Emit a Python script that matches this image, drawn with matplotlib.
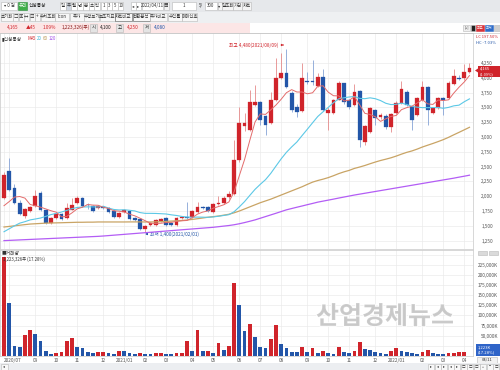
import numpy as np
import pandas as pd
import matplotlib
matplotlib.use('Agg')
import matplotlib.pyplot as plt
from matplotlib.patches import Rectangle, Polygon
import matplotlib.patheffects as pe

plt.rcParams['font.family'] = ['Noto Sans CJK KR', 'DejaVu Sans']

# 신성통상 주봉 (2020/07/27 ~ 2022/04/11)
start_date = '2020-07-27'
opens = [1970, 2420, 2140, 1885, 1665, 1750, 1835, 2055, 1765, 1550,
         1630, 1700, 1630, 1770, 1885, 1970, 1860, 1835, 1800, 1820,
         1800, 1750, 1650, 1735, 1750, 1630, 1615, 1450, 1515, 1515,
         1585, 1630, 1550, 1515, 1630, 1650, 1650, 1735, 1820, 1820,
         1735, 1870, 1885, 1990, 2040, 2610, 3190, 3120, 3540, 3590,
         3360, 3240, 3620, 4000, 4080, 3750, 3510, 3440, 3950, 3945,
         3860, 4010, 3410, 3410, 3630, 3910, 3620, 3540, 3780, 2920,
         3090, 3460, 3340, 3360, 3170, 3410, 3570, 3760, 3510, 3370,
         3620, 3850, 3400, 3490, 3660, 3660, 3890, 4000, 3990, 4100]
highs = [2410, 2640, 2200, 1930, 1800, 1840, 2100, 2090, 1780, 1650,
         1720, 1720, 1880, 1970, 2000, 1985, 1890, 1850, 1850, 1835,
         1810, 1790, 1730, 1790, 1765, 1650, 1630, 1520, 1570, 1620,
         1640, 1650, 1560, 1650, 1670, 1900, 1760, 1900, 1840, 1840,
         1890, 2000, 2000, 2080, 2950, 3500, 3400, 3800, 3880, 3600,
         3380, 3760, 4330, 4420, 4480, 3780, 3550, 4250, 4100, 4300,
         4080, 4150, 3500, 3650, 3950, 3920, 3650, 3900, 3800, 3200,
         3500, 3480, 3410, 3390, 3400, 3600, 3950, 3790, 3530, 3670,
         3950, 3860, 3510, 3670, 3680, 3950, 4150, 4050, 4240, 4250]
lows = [1950, 2090, 1870, 1680, 1630, 1735, 1820, 1750, 1530, 1530,
        1610, 1600, 1620, 1760, 1870, 1820, 1790, 1730, 1790, 1790,
        1720, 1640, 1630, 1720, 1600, 1580, 1430, 1400, 1500, 1500,
        1570, 1500, 1500, 1500, 1620, 1620, 1640, 1720, 1780, 1740,
        1720, 1860, 1870, 1960, 2020, 2580, 3100, 3100, 3520, 3200,
        3030, 3220, 3600, 3980, 3820, 3420, 3330, 3420, 3900, 3880,
        3840, 3440, 3120, 3390, 3620, 3560, 3480, 3520, 2830, 2870,
        3060, 3200, 3300, 3130, 3080, 3390, 3560, 3530, 3120, 3350,
        3610, 3200, 3390, 3470, 3380, 3640, 3870, 3960, 3970, 4080]
closes = [2360, 2110, 1885, 1700, 1785, 1820, 2005, 1765, 1550, 1630,
          1700, 1615, 1800, 1850, 1970, 1835, 1845, 1750, 1835, 1800,
          1735, 1650, 1715, 1765, 1615, 1600, 1450, 1500, 1550, 1600,
          1615, 1515, 1515, 1630, 1650, 1640, 1750, 1820, 1800, 1750,
          1870, 1885, 1970, 2040, 2610, 3240, 3240, 3590, 3590, 3290,
          3200, 3620, 4000, 4080, 3840, 3460, 3420, 4000, 3930, 3925,
          4010, 3460, 3460, 3630, 3910, 3590, 3510, 3760, 2950, 3190,
          3490, 3320, 3370, 3170, 3390, 3570, 3810, 3540, 3290, 3660,
          3850, 3460, 3490, 3660, 3620, 3910, 4030, 3985, 4100, 4165]
# 거래량 (천주)
volumes = [243300, 131400, 24600, 21400, 51800, 64100, 53500, 37700, 13100, 4900,
           8100, 9100, 37700, 43600, 22900, 19700, 9100, 6600, 9100, 10600,
           6600, 5700, 12300, 11600, 6600, 5700, 6600, 4900, 4200, 6600,
           6900, 4900, 4200, 6600, 7400, 37000, 13100, 64100, 11600, 12300,
           6600, 31300, 14800, 24600, 179200, 125000, 62400, 78900, 47600, 21400,
           20500, 41100, 76400, 28800, 19700, 10600, 9900, 22200, 9100, 19700,
           6600, 12300, 6600, 5800, 21400, 10600, 6600, 13100, 33800, 17300,
           14800, 10600, 6600, 4900, 12300, 19700, 13100, 9100, 6600, 4900,
           10600, 14800, 6600, 5700, 4200, 7500, 8600, 9200, 9800, 1223]

# 화면 왼쪽 이전 구간의 이동평균
ma5_head = [1840, 1910, 1985, 1995]
ma20_head = [1400, 1450, 1500, 1545, 1570, 1600, 1615, 1632, 1660, 1690,
             1710, 1733, 1760, 1790, 1810, 1818, 1820, 1820, 1818]
ma60_head = [1480, 1490, 1500, 1510, 1520, 1530, 1535, 1540, 1545, 1548,
             1550, 1552, 1555, 1557, 1560, 1560, 1562, 1562, 1565, 1565,
             1565, 1565, 1565, 1565, 1566, 1566, 1566, 1565, 1565, 1567,
             1570, 1575, 1580, 1585, 1590, 1598, 1608, 1620, 1632, 1645,
             1655, 1665, 1680, 1695, 1720, 1750, 1785, 1820, 1855, 1890,
             1920, 1950, 1985, 2020, 2055, 2090, 2125, 2160, 2200]
ma120 = [1250, 1254, 1258, 1262, 1266, 1270, 1274, 1278, 1282, 1286,
         1290, 1294, 1298, 1302, 1306, 1310, 1314, 1318, 1322, 1328,
         1335, 1342, 1349, 1356, 1363, 1370, 1377, 1384, 1391, 1398,
         1405, 1412, 1419, 1426, 1433, 1440, 1447, 1454, 1461, 1468,
         1475, 1485, 1495, 1505, 1518, 1535, 1555, 1577, 1600, 1628,
         1656, 1684, 1712, 1741, 1770, 1792, 1814, 1835, 1857, 1878,
         1900, 1917, 1934, 1951, 1969, 1986, 2003, 2020, 2035, 2050,
         2065, 2080, 2095, 2110, 2125, 2140, 2155, 2170, 2185, 2200,
         2215, 2230, 2245, 2260, 2275, 2290, 2305, 2322, 2338, 2355]

price_ticks = [1250, 1500, 1750, 2000, 2250, 2500, 2750, 3000, 3250, 3500, 3750, 4000, 4250]
vol_ticks = [25000, 50000, 75000, 100000, 125000, 150000, 175000, 200000, 225000, 250000]

RED = '#d0242b'
BLUE = '#2356a8'

n = len(closes)
idx = np.arange(n)
o = np.array(opens); h = np.array(highs); l = np.array(lows); c = np.array(closes)
v = np.array(volumes)
cs = pd.Series(c, dtype=float)


def moving(window, head):
    m = cs.rolling(window).mean().to_numpy()
    m[:len(head)] = head
    return m


ma5 = moving(5, ma5_head)
ma20 = moving(20, ma20_head)
ma60 = moving(60, ma60_head)

dates = pd.date_range(start_date, periods=n, freq='7D')
month_idx = [i for i in range(n) if i == 0 or dates[i].month != dates[i - 1].month]
month_lab = []
last = -10
for i in month_idx:
    if i - last < 4:
        month_lab.append('')
        continue
    last = i
    d = dates[i]
    month_lab.append(d.strftime('%Y/%m') if (i == 0 or d.month == 1) else d.strftime('%m'))

W, H = 500, 370
fig = plt.figure(figsize=(5, 3.7), dpi=100)
fig.patch.set_facecolor('white')


def axes_px(x0, y0, x1, y1):
    return fig.add_axes([x0 / W, 1 - y1 / H, (x1 - x0) / W, (y1 - y0) / H])


PX = 5.23  # px per candle
xlim = (-4 / PX, (473 - 4) / PX)

# ---- price panel
ax = axes_px(0, 33, 473, 249)
ax.set_xlim(*xlim)
ax.set_ylim(4250 - 186 * 16.89, 4250 + 30 * 16.89)
up = c >= o
for i in idx:
    col = RED if up[i] else BLUE
    wick = '#e58a8a' if up[i] else '#86a3d6'
    ax.vlines(i, l[i], h[i], color=wick, lw=0.6, zorder=2)
    body = max(abs(c[i] - o[i]), 10)
    ax.bar(i, body, bottom=min(o[i], c[i]), width=0.72, color=col,
           edgecolor=col, lw=0.2, zorder=3)
ax.plot(idx, ma120, color='#b35df5', lw=0.9, zorder=4)
ax.plot(idx, ma60, color='#c9a465', lw=0.9, zorder=4)
ax.plot(idx, ma20, color='#5cc8e6', lw=0.8, zorder=4)
ax.plot(idx, ma5, color='#e36b6b', lw=0.7, zorder=4)

hi_i = int(np.argmax(h)); lo_i = int(np.argmin(l))
ax.annotate('최고 4,480(2021/08/09)', xy=(hi_i, 4554), xytext=(hi_i - 1.6, 4554),
            ha='right', va='center', fontsize=3.4, color=RED,
            arrowprops=dict(arrowstyle='-|>', color=RED, lw=0.5, mutation_scale=3))
ax.annotate('최저 1,400(2021/02/01)', xy=(lo_i, 1362), xytext=(lo_i + 1.0, 1362),
            ha='left', va='center', fontsize=3.4, color=BLUE,
            arrowprops=dict(arrowstyle='-|>', color=BLUE, lw=0.5, mutation_scale=3))

ax.yaxis.tick_right()
ax.set_yticks(price_ticks)
ax.set_yticklabels([f'{t:,}' for t in price_ticks])
ax.set_xticks(month_idx)
ax.set_xticklabels([])
ax.tick_params(axis='both', length=0, labelsize=3.4, labelcolor='#555555', pad=6)
ax.grid(color='#ebebeb', lw=0.5, zorder=0)
for s in ax.spines.values():
    s.set_color('#c8c8c8'); s.set_linewidth(0.5)

# ---- volume panel
axv = axes_px(0, 250, 473, 356)
axv.set_xlim(*xlim)
axv.set_ylim(0, 106 * 2465)
vcol = [RED if (i == 0 or v[i] >= v[i - 1]) else BLUE for i in idx]
axv.bar(idx, v, width=0.72, color=vcol, zorder=3)
axv.yaxis.tick_right()
axv.set_yticks(vol_ticks)
axv.set_yticklabels(['' if t in (25000, 250000) else f'{t:,}K' for t in vol_ticks])
for t in axv.get_yticklabels():
    t.set_ha('right')
axv.set_xticks(month_idx)
axv.set_xticklabels(month_lab)
axv.get_xticklabels()[0].set_ha('left')
axv.tick_params(axis='y', length=0, labelsize=3.4, labelcolor='#555555', pad=18)
axv.tick_params(axis='x', length=0, labelsize=3.4, labelcolor='#555555', pad=1.5)
axv.grid(color='#ebebeb', lw=0.5, zorder=0)
for s in axv.spines.values():
    s.set_color('#c8c8c8'); s.set_linewidth(0.5)

# ---- overlay: toolbar, labels, watermark
ov = fig.add_axes([0, 0, 1, 1])
ov.set_xlim(0, W); ov.set_ylim(H, 0); ov.axis('off'); ov.set_zorder(5)


def box(x, y, w, hh, fc, text=None, tc='#333333', ec='#b8b8b8', fs=3.2):
    ov.add_patch(Rectangle((x, y), w, hh, fc=fc, ec=ec, lw=0.4))
    if text:
        ov.text(x + w / 2, y + hh / 2, text, ha='center', va='center', fontsize=fs, color=tc)


ov.add_patch(Rectangle((0, 0), W, 11.5, fc='#e6e8eb', ec='none'))
ov.add_patch(Rectangle((0, 11.5), W, 11, fc='#eef0f2', ec='none'))
ov.add_patch(Rectangle((0, 22.5), W, 10, fc='white', ec='none'))
ov.add_patch(Rectangle((0, 22.5), 250, 10, fc='#fce6e6', ec='none'))
ov.plot([0, W], [32.5, 32.5], color='#c8c8c8', lw=0.5)

# row 1
box(1, 1.5, 16, 8.5, 'white', '▾ 0 검')
box(18, 1.5, 9, 8.5, '#3fae49', '유리', tc='white', ec='#2e8b3a')
ov.text(29, 5.8, '신성통상', fontsize=3.4, va='center', color='#222222')
for k, t in enumerate(['일', '주', '월', '년', '분', '초', '틱']):
    box(60 + k * 5.7, 1.5, 5.7, 8.5, '#cfd6e0' if t == '주' else 'white', t)
for k, t in enumerate(['1', '3', '5', '10']):
    box(101 + k * 5.6, 1.5, 5.6, 8.5, 'white', t)
box(131, 1.5, 5, 8.5, 'white', '◂')
box(136, 1.5, 5, 8.5, 'white', '▸')
box(142, 1.5, 21, 8.5, 'white', '2022/04/11')
box(163.5, 1.5, 5, 8.5, '#f4f4f4', '▦')
box(172, 1.5, 24, 8.5, 'white', '1')
ov.text(199, 5.8, '5/', fontsize=3.2, va='center', color='#333333')
box(205, 1.5, 12, 8.5, 'white', '300')
box(217.5, 1.5, 4, 8.5, '#f4f4f4', '▾')
box(222, 1.5, 11, 8.5, '#f4f4f4', '일조회')
box(233, 1.5, 9, 8.5, '#f4f4f4', '가감')
box(242, 1.5, 9, 8.5, '#f4f4f4', '차트')

# row 2
row2 = [('초기화', 12), ('□', 5), ('▣', 5), ('↔', 5), ('▥', 5), ('+', 5),
        ('수치조회', 14), ('Icon', 14), ('추가', 14), ('수평보기', 15),
        ('보조지표', 15), ('차트비교', 17), ('전환분석', 17), ('주가비교', 17),
        ('수익률', 14), ('매매신호', 15)]
x = 0.5
for t, w in row2:
    hl = t in ('차트비교', '전환분석')
    box(x, 12.5, w, 8.5, '#f7f7f7', t, ec='#555555' if hl else '#b8b8b8')
    x += w + 0.5

# row 3 : 현재가 정보
ov.text(7, 27.5, '4,165', fontsize=3.4, color=RED, va='center')
ov.text(26, 27.5, '▲45', fontsize=3.4, color=RED, va='center')
ov.text(43, 27.5, '1.09%', fontsize=3.4, color=RED, va='center')
ov.text(62, 27.5, '1,223,326(주)', fontsize=3.4, color='#8a1a1a', va='center')
box(90, 23.5, 7, 8, '#e4e4e4', '시')
ov.text(100, 27.5, '4,100', fontsize=3.4, color='#222222', va='center')
box(116, 23.5, 7, 8, '#e4e4e4', '고')
ov.text(127, 27.5, '4,250', fontsize=3.4, color=RED, va='center')
box(143, 23.5, 7, 8, '#e4e4e4', '저')
ov.text(154, 27.5, '4,080', fontsize=3.4, color=BLUE, va='center')
box(463, 24.5, 7, 6.5, '#f0f0f0', '[+]', fs=2.6)
box(471, 24.5, 4, 6.5, '#222222')
box(476, 24.5, 8, 6.5, '#d9343a', '최고', tc='white', fs=2.6, ec='#d9343a')
box(485, 24.5, 8, 6.5, '#2f6cc8', '최저', tc='white', fs=2.6, ec='#2f6cc8')
box(494, 24.5, 6, 6.5, '#cfcfcf')

# legends
ov.text(2, 38.5, '▮신성통상', fontsize=3.4, color='#333333', va='center')
for t, xx, col in [('MA', 27, RED), ('5', 32.5, RED), ('20', 36.5, '#3fb6d9'),
                   ('60', 42.5, '#b8924f'), ('120', 48.5, '#a24fe8')]:
    ov.text(xx, 38.5, t, fontsize=3.2, color=col, va='center')
ov.text(476, 37.5, 'LC 197.50%', fontsize=3.0, color=RED, va='center')
ov.text(476, 42.5, 'HC -7.03%', fontsize=3.0, color=BLUE, va='center')

# 현재가 표시
ov.add_patch(Polygon([[475, 70.5], [478, 68.5], [478, 72.5]], closed=True, fc=RED, ec='none'))
ov.add_patch(Rectangle((478, 65.8), 22, 11.2, fc=RED, ec='none'))
ov.text(480, 68.6, '4,165', fontsize=3.0, color='white', va='center')
ov.text(480, 74.2, '(1.09%)', fontsize=2.8, color='white', va='center')

# 거래량 범례
ov.text(2, 253.5, '■거래량', fontsize=3.4, color='#333333', va='center')
ov.text(3, 259.5, '1,223,326주 (17.28%)', fontsize=3.1, color='#333333', va='center')
box(478, 250.5, 9, 4, '#dadada')
box(489, 250.5, 9, 4, '#dadada')
ov.add_patch(Rectangle((475.5, 343.5), 24.5, 12.5, fc='#2f64c8', ec='none'))
ov.text(478, 347, '1,223K', fontsize=3.0, color='white', va='center')
ov.text(478, 352.5, '(17.28%)', fontsize=3.0, color='white', va='center')
box(477, 356.5, 20, 6, '#f2f2f2', '04/11', fs=3.0)

# bottom bar
ov.add_patch(Rectangle((0, 363), W, 7, fc='#eceef1', ec='none'))
box(0.5, 363.5, 7, 6, '#f8f8f8', '◂', fs=2.6)
for k, t in enumerate(['▸', '◂', '▸', '◂', '▸', '□', '□', '□', '+', '−', '□']):
    box(428 + k * 6.5, 363.5, 6, 6, '#f8f8f8', t, fs=2.6)

# watermark
ov.text(385, 317, '산업경제뉴스', fontsize=18, fontweight='bold', color='#c8c8c8',
        ha='center', va='center', alpha=0.92,
        path_effects=[pe.withStroke(linewidth=1.4, foreground='white')])

fig.savefig('out.png', dpi=100)
